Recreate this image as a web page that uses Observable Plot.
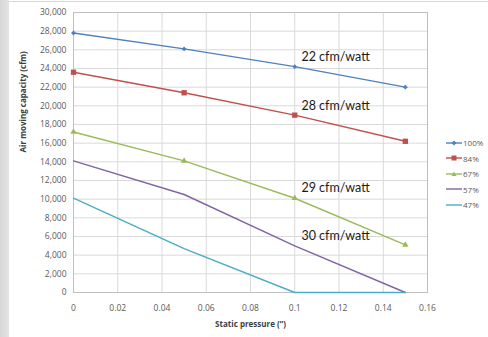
<!DOCTYPE html>
<html>
<head>
<meta charset="utf-8">
<script src="https://cdn.jsdelivr.net/npm/d3@7"></script>
<script src="https://cdn.jsdelivr.net/npm/@observablehq/plot@0.6"></script>
<style>
  html, body { margin: 0; padding: 0; background: #fff; }
  #wrap { position: relative; width: 488px; height: 337px; overflow: hidden; background: #fff; }
  #strip { position: absolute; left: 0; top: 0; width: 9px; height: 337px;
           background: linear-gradient(to right, #d6d6d6, #e4e4e4); }
  #topline { position: absolute; left: 9px; top: 1px; right: 0; height: 1px; background: #d8d8d8; }
  #legend { position: absolute; left: 446px; top: 135px; font: 8px "Open Sans", sans-serif; color: #595959; }
  #legend .item { display: flex; align-items: center; height: 15.5px; }
  #legend svg { margin-right: 1px; }
</style>
</head>
<body>
<div id="wrap">
  <div id="strip"></div>
  <div id="topline"></div>
  <div id="chart"></div>
  <div id="legend"></div>
</div>
<script>
// Static pressure (inches of water) at which air moving capacity was measured
const pressures = [0, 0.05, 0.1, 0.15];

// Fan speed settings and their airflow (cfm) at each pressure
const series = ["100%", "84%", "67%", "57%", "47%"];
const flow100 = [27800, 26100, 24200, 22000];
const flow84 = [23600, 21400, 19000, 16200];
const flow67 = [17200, 14100, 10100, 5100];
const flow57 = [14100, 10500, 5000, 0];
const flow47 = [10100, 4700, 0, 0];

const colors = ["#4F81BD", "#C0504D", "#9BBB59", "#8064A2", "#4BACC6"];
const symbols = ["diamond2", "square", "triangle", null, null];
const symbolSize = [2.2, 3, 2.4, 0, 0];

// Efficiency callouts
const notes = ["22 cfm/watt", "28 cfm/watt", "29 cfm/watt", "30 cfm/watt"];
const noteX = [0.103, 0.103, 0.103, 0.103];
const noteY = [25200, 19950, 11250, 6100];

const xTicks = [0, 0.02, 0.04, 0.06, 0.08, 0.1, 0.12, 0.14, 0.16];
const yTicks = d3.range(0, 30001, 2000);

const allFlows = [flow100, flow84, flow67, flow57, flow47];
const rows = series.flatMap((s, i) =>
  pressures.map((p, j) => ({ series: s, p, cfm: allFlows[i][j] }))
);
const notesData = notes.map((t, i) => ({ t, x: noteX[i], y: noteY[i] }));
const xFormat = d => d === 0 ? "0" : String(+d.toFixed(2));

const chart = Plot.plot({
  width: 488,
  height: 337,
  marginLeft: 73,
  marginRight: 61,
  marginTop: 12,
  marginBottom: 45,
  style: { fontFamily: "'Open Sans', sans-serif", fontSize: "8px", color: "#595959", background: "transparent" },
  x: { domain: [0, 0.16], label: null },
  y: { domain: [0, 30000], label: null },
  marks: [
    Plot.gridX(xTicks, { stroke: "#d9d9d9", strokeOpacity: 1 }),
    Plot.gridY(yTicks, { stroke: "#d9d9d9", strokeOpacity: 1 }),
    Plot.frame({ stroke: "#bfbfbf" }),
    Plot.axisX(xTicks, { tickSize: 0, tickPadding: 12, tickFormat: xFormat, fill: "#595959", fontSize: 8.5, label: null }),
    Plot.axisY(yTicks, { tickSize: 0, tickPadding: 7, tickFormat: d3.format(","), fill: "#595959", fontSize: 8.5, label: null }),
    Plot.line(rows, { x: "p", y: "cfm", z: "series", stroke: d => colors[series.indexOf(d.series)], strokeWidth: 1.4 }),
    ...series.map((s, i) => symbols[i] ? Plot.dot(rows.filter(d => d.series === s), {
      x: "p", y: "cfm", symbol: symbols[i], r: symbolSize[i], fill: colors[i], stroke: "none"
    }) : null).filter(Boolean),
    Plot.text(notesData, { x: "x", y: "y", text: "t", textAnchor: "start", fontSize: 12.5, fill: "#1a1a1a",
      fontFamily: "Lato, sans-serif" }),
    Plot.text(["Static pressure (\u201d)"], { frameAnchor: "bottom", dy: 34, fontSize: 8, fontWeight: "bold", fill: "#404040" }),
    Plot.text(["Air moving capacity (cfm)"], { frameAnchor: "left", dx: -50, rotate: -90, fontSize: 8, fontWeight: "bold", fill: "#404040" })
  ]
});
document.getElementById("chart").append(chart);

// Legend on the right
const legend = document.getElementById("legend");
series.forEach((s, i) => {
  const item = document.createElement("div");
  item.className = "item";
  const sym = symbols[i];
  let marker = "";
  if (sym === "diamond2") marker = `<path d="M8,2.5 L10.5,5 L8,7.5 L5.5,5Z" fill="${colors[i]}"/>`;
  else if (sym === "square") marker = `<rect x="5.5" y="2.5" width="5" height="5" fill="${colors[i]}"/>`;
  else if (sym === "triangle") marker = `<path d="M8,2.5 L10.5,7 L5.5,7Z" fill="${colors[i]}"/>`;
  item.innerHTML = `<svg width="16" height="10"><line x1="0" x2="16" y1="5" y2="5" stroke="${colors[i]}" stroke-width="1.4"/>${marker}</svg><span>${s}</span>`;
  legend.append(item);
});
</script>
</body>
</html>
